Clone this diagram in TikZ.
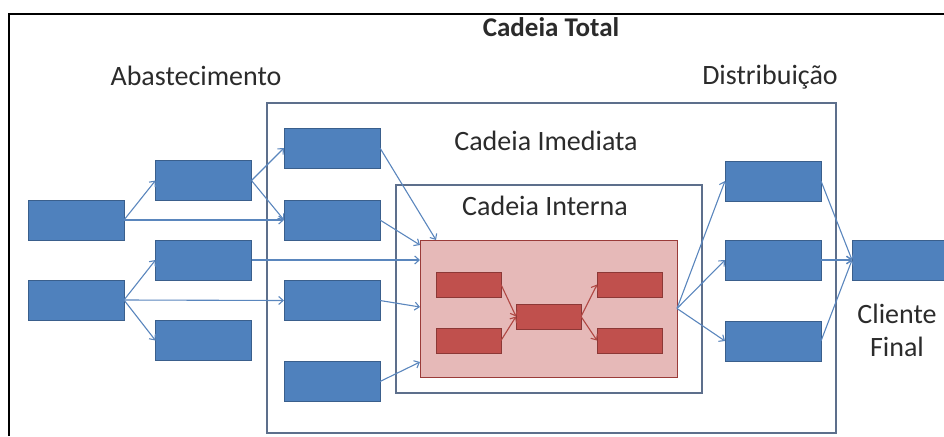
\documentclass[tikz,border=0pt]{standalone}
\usepackage{fontspec}
\setmainfont{Carlito}
\usetikzlibrary{arrows.meta}
\usepackage{xcolor}
\definecolor{caixa}{HTML}{4F81BD}
\definecolor{caixaborda}{HTML}{3A5F8C}
\definecolor{tijolo}{HTML}{C0504D}
\definecolor{tijoloborda}{HTML}{8C3836}
\definecolor{rosa}{HTML}{E6B9B8}
\definecolor{rosaborda}{HTML}{9A3B39}
\definecolor{seta}{HTML}{5A86BD}
\definecolor{setaverm}{HTML}{B04844}
\definecolor{moldura}{HTML}{5D6F8C}
\definecolor{texto}{HTML}{2B2B2B}
\tikzset{
    blubox/.style={
        draw=caixaborda,
        fill=caixa,
        minimum width=96pt,
        minimum height=40pt,
        inner sep=0pt,
        outer sep=0pt
    },
    redbox/.style={
        draw=tijoloborda,
        fill=tijolo,
        minimum width=65pt,
        minimum height=25pt,
        inner sep=0pt,
        outer sep=0pt
    },
    cadeia/.style={draw=moldura,line width=1.3pt,inner sep=0pt,outer sep=0pt},
    lig/.style={draw=seta,line width=1.1pt,-{Straight Barb[length=4.5pt,width=8pt]}},
    redlig/.style={lig,draw=setaverm},
    rotulo/.style={font=\fontsize{28}{33}\selectfont,text=texto,inner sep=0pt}
}

\begin{document}
\begin{tikzpicture}[x=1pt,y=-1pt]
    \useasboundingbox (0,0) rectangle (944,436);
    \draw[line width=2pt] (9,436) -- (9,14) -- (944,14);
    \node[rotulo,font=\fontsize{27}{33}\selectfont\bfseries] (total) at (551,27) {Cadeia Total};
    \node[rotulo] (abast) at (196,76) {Abastecimento};
    \node[rotulo] (distr) at (770,77) {Distribuição};
    \node[cadeia,minimum width=569pt,minimum height=330pt] (imediata) at (551.5,268) {};
    \node[cadeia,minimum width=306pt,minimum height=208pt] (interna) at (549,289) {};
    \node[draw=rosaborda,fill=rosa,line width=1pt,minimum width=257pt,minimum height=137pt,
        inner sep=0pt,outer sep=0pt] (nucleo) at (548.5,308.5) {};
    \node[rotulo] (lblimediata) at (546,141) {Cadeia Imediata};
    \node[rotulo] (lblinterna) at (545,206) {Cadeia Interna};
    \node[rotulo,align=center] (cliente) at (897,330) {Cliente\\Final};
    \foreach \n/\x/\y in {
        a/76/220, b/76/300,
        c/203.5/180.5, d/203.5/260, e/203.5/340.5,
        f/332/148, g/332/220, h/332/300.5, i/332/381.5,
        j/773/181, k/773/260, l/773/341
    }
        \node[blubox] (\n) at (\x,\y) {};
    \node[blubox,minimum width=92pt] (final) at (898,260) {};
    \foreach \n/\x/\y in {
        r1/468.5/284.5, r2/468.5/340.5, r3/548.5/316.5,
        r4/629.5/284.5, r5/629.5/340.5
    }
        \node[redbox] (\n) at (\x,\y) {};
    \coordinate (inf) at (436,240);
    \coordinate (ing) at (420,245);
    \coordinate (inh) at (420,307);
    \coordinate (ini) at (420,362);
    \foreach \p/\q in {a/c, a/g, b/d, b/h, b/e, c/f, c/g}
        \draw[lig] (\p.east) -- (\q.west);
    \draw[lig] (f.east) -- (inf);
    \draw[lig] (g.east) -- (ing);
    \draw[lig] (d.east) -- (d.east -| nucleo.west);
    \draw[lig] (h.east) -- (inh);
    \draw[lig] (i.east) -- (ini);
    \foreach \q in {j, k, l}
        \draw[lig] (nucleo.east) -- (\q.west);
    \foreach \p in {j, k, l}
        \draw[lig] (\p.east) -- (final.west);
    \foreach \p/\q in {r1/r3, r2/r3, r3/r4, r3/r5}
        \draw[redlig] (\p.east) -- (\q.west);
\end{tikzpicture}
\end{document}
